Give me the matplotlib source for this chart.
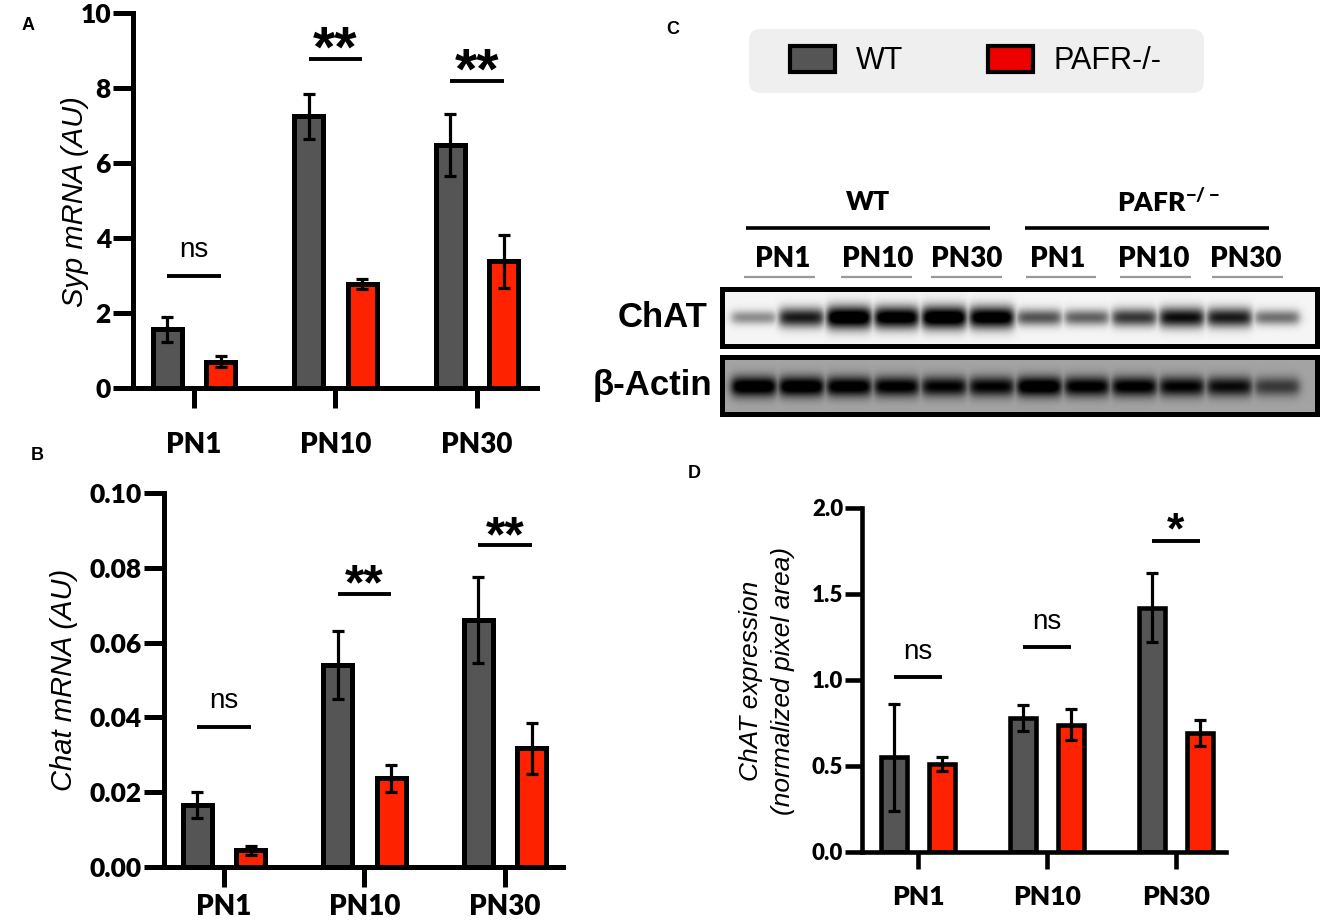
import numpy as np
import matplotlib
matplotlib.use("Agg")
import matplotlib.pyplot as plt
from matplotlib.patches import Patch, FancyBboxPatch, Rectangle

# ---------------- data ----------------
categories = ["PN1", "PN10", "PN30"]
series_names = ["WT", "PAFR-/-"]

syp_wt = [1.57, 7.25, 6.48]
syp_wt_sem = [0.33, 0.60, 0.83]
syp_ko = [0.70, 2.78, 3.38]
syp_ko_sem = [0.15, 0.14, 0.70]
syp_sig = ["ns", "**", "**"]
syp_sig_y = [2.98, 8.77, 8.18]

chat_wt = [0.0165, 0.054, 0.066]
chat_wt_sem = [0.0035, 0.009, 0.0115]
chat_ko = [0.0045, 0.0237, 0.0318]
chat_ko_sem = [0.0012, 0.0037, 0.0068]
chat_sig = ["ns", "**", "**"]
chat_sig_y = [0.0374, 0.073, 0.086]

prot_wt = [0.55, 0.78, 1.42]
prot_wt_sem = [0.31, 0.075, 0.20]
prot_ko = [0.51, 0.74, 0.69]
prot_ko_sem = [0.04, 0.09, 0.075]
prot_sig = ["ns", "ns", "*"]
prot_sig_y = [1.02, 1.19, 1.81]

blot_groups = ["WT", "PAFR$^{\\mathregular{-/-}}$"]
blot_lanes = ["PN1", "PN10", "PN30"]
blot_rows = ["ChAT", "β-Actin"]
chat_band = [0.35, 0.75, 1.0, 0.95, 1.0, 0.95, 0.55, 0.5, 0.65, 0.8, 0.75, 0.45]
actin_band = [1.0, 1.0, 0.95, 0.9, 0.85, 0.85, 1.0, 0.9, 0.9, 0.85, 0.8, 0.55]

# ---------------- style ----------------
GRAY = "#555555"
RED = "#ff2200"
LEG_RED = "#ee0000"
plt.rcParams["font.family"] = "Liberation Sans"
TICKFONT = "Lato"
TICKWEIGHT = "heavy"

W, H = 1325, 924
fig = plt.figure(figsize=(W / 100, H / 100), dpi=100)


def px_axes(x0, y0, x1, y1):
    return fig.add_axes([x0 / W, 1 - y1 / H, (x1 - x0) / W, (y1 - y0) / H])


def bar_panel(box, xlim, wt, wt_e, ko, ko_e, ymax, yticks, fmt, sig, sig_y,
              ytick_fs, xtick_fs, ticklen, xpad, star_fs, star_dy, ns_dy,
              off=0.19, width=0.205, lw=3.6):
    ax = px_axes(*box)
    x = np.arange(len(categories))
    ax.bar(x - off, wt, width, color=GRAY, edgecolor="black", linewidth=lw, zorder=2)
    ax.bar(x + off, ko, width, color=RED, edgecolor="black", linewidth=lw, zorder=2)
    ax.errorbar(x - off, wt, yerr=wt_e, fmt="none", ecolor="black", elinewidth=2.3,
                capsize=4.2, capthick=2.3, zorder=3)
    ax.errorbar(x + off, ko, yerr=ko_e, fmt="none", ecolor="black", elinewidth=2.3,
                capsize=4.2, capthick=2.3, zorder=3)
    ax.set_xlim(*xlim)
    ax.set_ylim(0, ymax)
    ax.set_yticks(yticks)
    ax.set_yticklabels([fmt.format(t) for t in yticks], fontfamily=TICKFONT,
                       fontweight=TICKWEIGHT, fontsize=ytick_fs)
    ax.set_xticks(x)
    ax.set_xticklabels(categories, fontfamily=TICKFONT, fontweight=TICKWEIGHT,
                       fontsize=xtick_fs)
    for s in ["top", "right"]:
        ax.spines[s].set_visible(False)
    for s in ["left", "bottom"]:
        ax.spines[s].set_linewidth(lw)
    ax.tick_params(axis="y", width=lw, length=ticklen, pad=1.5)
    ax.tick_params(axis="x", width=lw, length=ticklen, pad=xpad)
    for i, (s, y) in enumerate(zip(sig, sig_y)):
        ax.plot([x[i] - off, x[i] + off], [y, y], color="black", lw=2.8,
                solid_capstyle="butt", clip_on=False, zorder=4)
        if s == "ns":
            ax.annotate(s, (x[i], y), xytext=(0, ns_dy), textcoords="offset points",
                        ha="center", va="baseline", fontsize=20)
        else:
            ax.annotate(s, (x[i], y), xytext=(0, star_dy), textcoords="offset points",
                        ha="center", va="baseline", fontsize=star_fs,
                        fontweight="bold")
    return ax


# Panel A
axA = bar_panel((133, 13, 537, 388), (-0.431, 2.424), syp_wt, syp_wt_sem, syp_ko,
                syp_ko_sem, 10, [0, 2, 4, 6, 8, 10], "{:g}", syp_sig, syp_sig_y,
                19, 20, 14.4, 17, 41, -5, 14)
# Panel B
axB = bar_panel((164, 493, 563, 867), (-0.427, 2.413), chat_wt, chat_wt_sem, chat_ko,
                chat_ko_sem, 0.10, [0, 0.02, 0.04, 0.06, 0.08, 0.10], "{:.2f}",
                chat_sig, chat_sig_y, 19, 20, 14.4, 5, 36, -4, 14)
# Panel D
axD = bar_panel((862, 508, 1226, 852), (-0.434, 2.388), prot_wt, prot_wt_sem, prot_ko,
                prot_ko_sem, 2.0, [0, 0.5, 1.0, 1.5, 2.0], "{:.1f}", prot_sig,
                prot_sig_y, 16, 19, 12, 12, 32, -2, 13, off=0.186, width=0.2, lw=3.3)

# y labels
fig.text(75 / W, 1 - 202 / H, "Syp mRNA (AU)", rotation=90, ha="center", va="center",
         fontsize=21, fontstyle="italic")
fig.text(64 / W, 1 - 680 / H, "Chat mRNA (AU)", rotation=90, ha="center", va="center",
         fontsize=21, fontstyle="italic")
fig.text(751 / W, 1 - 681 / H, "ChAT expression", rotation=90, ha="center",
         va="center", fontsize=19, fontstyle="italic")
fig.text(783 / W, 1 - 681 / H, "(normalized pixel area)", rotation=90, ha="center",
         va="center", fontsize=19, fontstyle="italic")

# panel letters
for letter, (px, py) in zip("ABCD", [(28, 26), (37, 456), (673, 30), (694, 474)]):
    fig.text(px / W, 1 - py / H, letter, ha="center", va="center", fontsize=13,
             fontweight="bold")

# ---------------- Panel C (blot) ----------------
axC = px_axes(560, 0, 1325, 430)
axC.set_xlim(560, 1325)
axC.set_ylim(430, 0)
axC.axis("off")

# legend background
axC.add_patch(FancyBboxPatch((749, 29), 455, 64,
                             boxstyle="round,pad=0,rounding_size=12",
                             fc="#efefef", ec="none"))
handles = [Patch(facecolor=GRAY, edgecolor="black", linewidth=3, label=series_names[0]),
           Patch(facecolor=LEG_RED, edgecolor="black", linewidth=3, label=series_names[1])]
fig.legend(handles=handles, loc="center", bbox_to_anchor=(976 / W, 1 - 61 / H),
           ncol=2, frameon=False, fontsize=22, handlelength=1.47, handleheight=0.95,
           handletextpad=0.69, columnspacing=2.75)

# group labels and lines
group_cx = [868, 1168]
group_lines = [(746, 990), (1025, 1269)]
for g, name in enumerate(blot_groups):
    axC.text(group_cx[g], 202, name, ha="center", va="center", fontsize=19,
             fontweight=TICKWEIGHT, fontfamily=TICKFONT)
    axC.plot(group_lines[g], [228, 228], color="black", lw=2.6, solid_capstyle="butt")

lane_cx = [783, 878, 967, 1058, 1154, 1246]
lane_ul = [(744, 815), (841, 912), (931, 1002), (1026, 1096), (1120, 1191), (1212, 1283)]
for k in range(6):
    axC.text(lane_cx[k], 259, blot_lanes[k % 3], ha="center", va="center",
             fontsize=20, fontweight=TICKWEIGHT, fontfamily=TICKFONT)
    axC.plot(lane_ul[k], [277, 277], color="#999999", lw=1.6, solid_capstyle="butt")

# blot rows
bx0, bx1 = 722, 1317
row_boxes = [(289, 346), (357, 414)]
row_bg = [0.04, 0.36]
row_sig = [(4.5, 7.0), (8.5, 1.5)]
band_sets = [chat_band, actin_band]
label_right = [708, 712]
lane_centers = np.linspace(754, 1277, 12)
xs = np.arange(bx0, bx1) + 0.5
for r in range(2):
    y0, y1 = row_boxes[r]
    ys = np.arange(y0, y1) + 0.5
    yc = (y0 + y1) / 2 + (1.5 if r == 1 else 0)
    X, Y = np.meshgrid(xs, ys)
    ink = np.zeros_like(X)
    for c, inten in zip(lane_centers, band_sets[r]):
        sig = row_sig[r][0] + row_sig[r][1] * inten
        px_prof = 1 / (1 + np.exp((np.abs(X - c) - 22) / 2.5))
        py_prof = np.exp(-((Y - yc) / sig) ** 2)
        ink = np.maximum(ink, inten * px_prof * py_prof * 1.2)
    img = row_bg[r] + (1 - row_bg[r]) * np.clip(ink, 0, 1)
    axC.imshow(img, cmap="gray_r", vmin=0, vmax=1, extent=(bx0, bx1, y1, y0),
               aspect="auto", interpolation="bilinear", zorder=1)
    axC.add_patch(Rectangle((bx0, y0), bx1 - bx0, y1 - y0, fill=False, ec="black",
                            lw=3.6, zorder=2))
    axC.text(label_right[r], (y0 + y1) / 2, blot_rows[r], ha="right", va="center",
             fontsize=25, fontweight="bold")
axC.set_xlim(560, 1325)
axC.set_ylim(430, 0)

fig.savefig("out.png", dpi=100)
